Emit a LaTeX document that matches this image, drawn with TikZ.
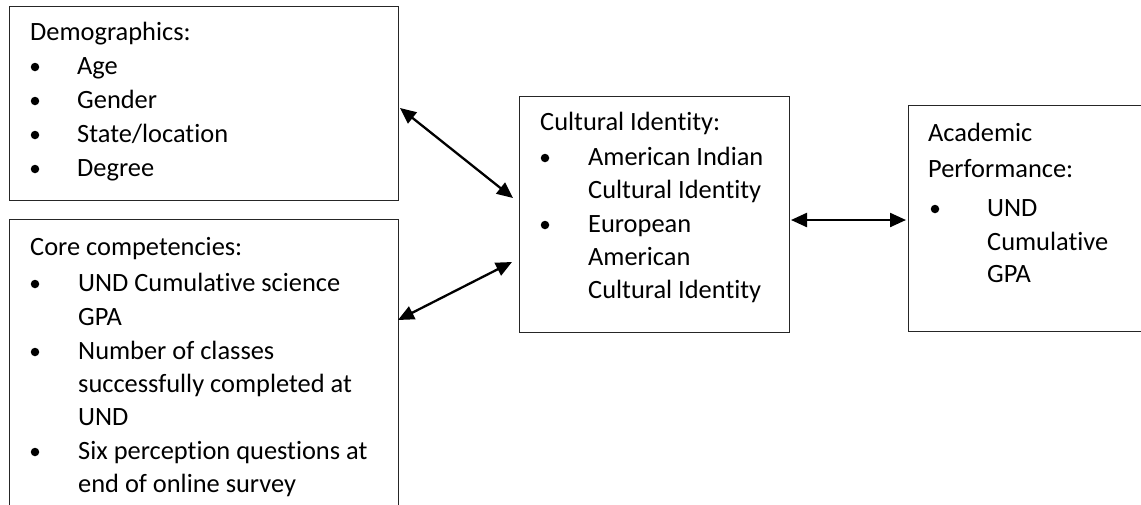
\documentclass[tikz,border=0pt]{standalone}
\usepackage{fontspec}
\setmainfont{Carlito}[Ligatures=NoCommon]
\usetikzlibrary{arrows.meta}
\begin{document}
\begin{tikzpicture}[x=1pt,y=-1pt,
  box/.style={draw=black!85,line width=1.2pt,inner sep=0pt,anchor=north west},
  txt/.style={anchor=base west,inner sep=0pt,font=\fontsize{26.4}{30}\selectfont},
  bul/.style={circle,fill=black,inner sep=0pt,minimum size=8.5pt},
  arr/.style={line width=2.3pt,{Triangle[length=16pt,width=14pt]}-{Triangle[length=16pt,width=14pt]}}]
\useasboundingbox (0,0) rectangle (1141,504);
\clip (0,0) rectangle (1141,504);
\fill[white] (0,0) rectangle (1141,504);
% boxes
\node[box,minimum width=389pt,minimum height=194pt] (demo) at (9,6) {};
\node[box,minimum width=389pt,minimum height=320pt] (core) at (9,219) {};
\node[box,minimum width=270pt,minimum height=236pt] (cult) at (519,96) {};
\node[box,minimum width=260pt,minimum height=226pt] (acad) at (908,105) {};
% Demographics
\node[txt] (d0) at (30,40) {Demographics:};
\node[bul] (db1) at (35,67) {}; \node[txt] (d1) at (77,74) {Age};
\node[bul] (db2) at (35,101) {}; \node[txt] (d2) at (77,108) {Gender};
\node[bul] (db3) at (35,135) {}; \node[txt] (d3) at (77,142) {State/location};
\node[bul] (db4) at (35,169) {}; \node[txt] (d4) at (77,176) {Degree};
% Core competencies
\node[txt] (c0) at (30,255) {Core competencies:};
\node[bul] (cb1) at (35,284) {}; \node[txt] (c1) at (78,291) {UND Cumulative science};
\node[txt] (c2) at (78,325) {GPA};
\node[bul] (cb2) at (35,352) {}; \node[txt] (c3) at (78,359) {Number of classes};
\node[txt] (c4) at (78,392) {successfully completed at};
\node[txt] (c5) at (78,425) {UND};
\node[bul] (cb3) at (35,452) {}; \node[txt] (c6) at (78,459) {Six perception questions at};
\node[txt] (c7) at (78,492) {end of online survey};
% Cultural identity
\node[txt] (u0) at (540,130) {Cultural Identity:};
\node[bul] (ub1) at (545,158) {}; \node[txt] (u1) at (588,165) {American Indian};
\node[txt] (u2) at (588,198) {Cultural Identity};
\node[bul] (ub2) at (545,225) {}; \node[txt] (u3) at (588,232) {European};
\node[txt] (u4) at (588,265) {American};
\node[txt] (u5) at (588,298) {Cultural Identity};
% Academic performance
\node[txt] (p0) at (928,141) {Academic};
\node[txt] (p1) at (928,177) {Performance:};
\node[bul] (pb1) at (935,209) {}; \node[txt] (p2) at (987,216) {UND};
\node[txt] (p3) at (987,250) {Cumulative};
\node[txt] (p4) at (987,282) {GPA};
% connector end points
\coordinate (a1s) at (400,108);
\coordinate (a1e) at (513,198);
\coordinate (a2s) at (512,262);
\coordinate (a2e) at (398,320);
\coordinate (a3s) at (791,220);
\coordinate (a3e) at (906,220);
\draw[arr] (a1s) -- (a1e);
\draw[arr] (a2s) -- (a2e);
\draw[arr] (a3s) -- (a3e);
\end{tikzpicture}
\end{document}
